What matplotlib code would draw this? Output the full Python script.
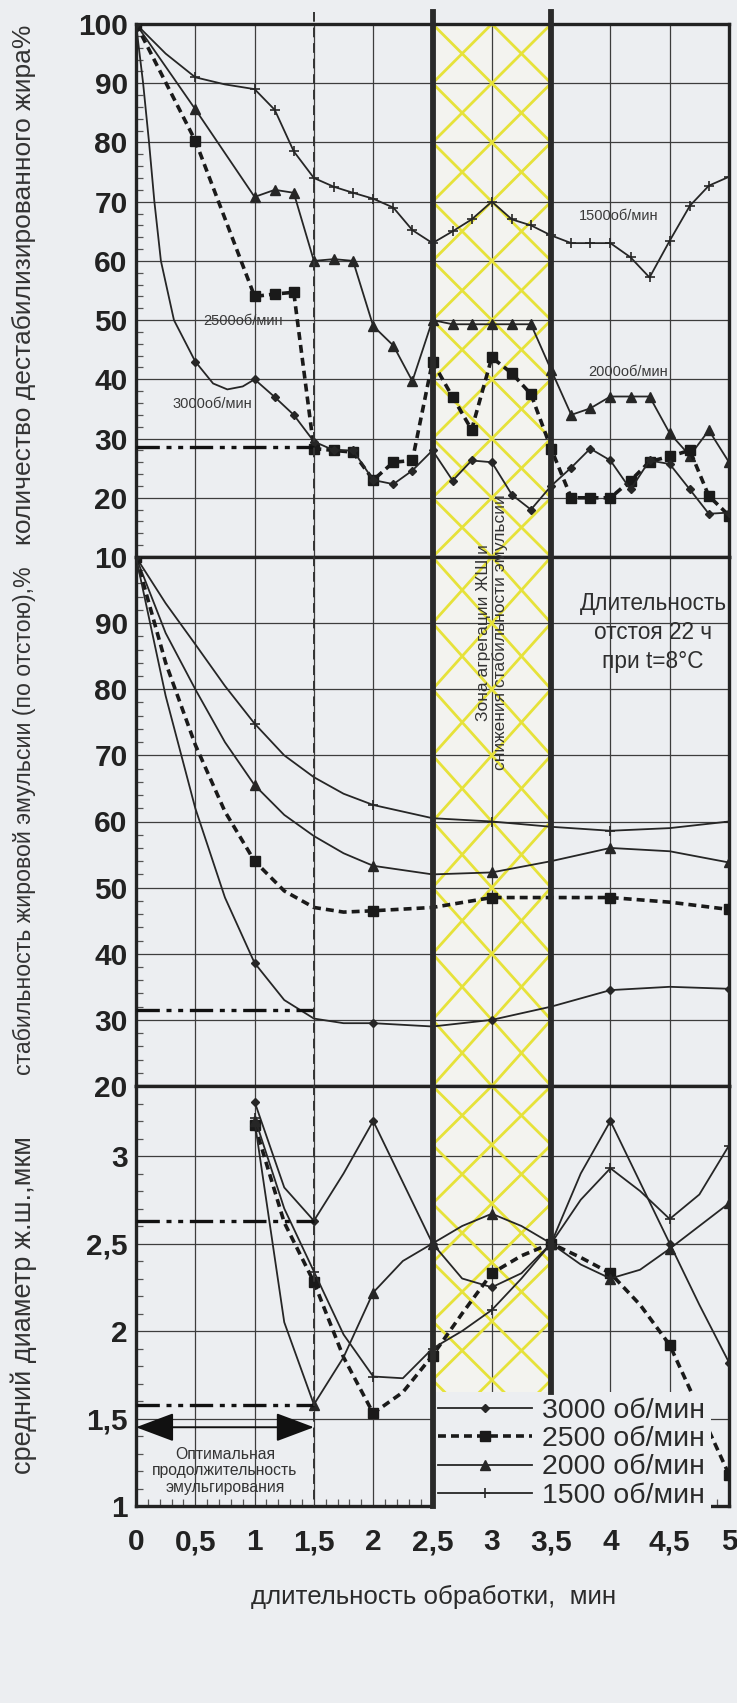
import matplotlib
matplotlib.use('Agg')
import matplotlib.pyplot as plt
import matplotlib.transforms as mtransforms
from matplotlib.lines import Line2D
from matplotlib.patches import Rectangle
from matplotlib.ticker import MultipleLocator
import numpy as np

plt.rcParams['font.family'] = ['Liberation Sans', 'DejaVu Sans']

BG = '#eceef1'
INK = '#262626'
GRID = '#3d3d3d'
YEL = '#e6e23a'

# ---------------- data ----------------
series_labels = ['3000 об/мин', '2500 об/мин', '2000 об/мин', '1500 об/мин']
x_ticks = [0, 0.5, 1, 1.5, 2, 2.5, 3, 3.5, 4, 4.5, 5]
x_tick_labels = ['0', '0,5', '1', '1,5', '2', '2,5', '3', '3,5', '4', '4,5', '5']

# top panel: количество дестабилизированного жира, %
top_x_3000 = [0, 0.06, 0.11, 0.155, 0.21, 0.32, 0.5, 0.65, 0.77, 0.9, 1.0, 1.17, 1.33, 1.5, 1.67, 1.83,
              2.0, 2.17, 2.33, 2.5, 2.67, 2.83, 3.0, 3.17, 3.33, 3.5, 3.67, 3.83, 4.0, 4.17, 4.33, 4.5,
              4.67, 4.83, 5.0]
top_y_3000 = [100, 90, 80, 70, 60, 50, 43, 39.3, 38.3, 38.8, 40, 37, 34, 29.5, 28, 28,
              23, 22.3, 24.6, 28, 22.9, 26.3, 26, 20.5, 18, 22, 25.1, 28.3, 26.3, 21.4, 26.3, 25.7,
              21.4, 17.3, 17.5]
top_x_1500 = [0, 0.25, 0.5, 0.75, 1.0, 1.17, 1.33, 1.5, 1.67, 1.83, 2.0, 2.17, 2.33, 2.5, 2.67, 2.83,
              3.0, 3.17, 3.33, 3.5, 3.67, 3.83, 4.0, 4.17, 4.33, 4.5, 4.67, 4.83, 5.0]
top_y_1500 = [100, 95, 91, 89.8, 89, 85.5, 78.5, 74, 72.5, 71.5, 70.5, 69, 65.2, 63, 65, 67,
              70, 67, 66, 64.3, 63, 63, 63, 60.6, 57.2, 63.4, 69.3, 72.7, 74.2]
top_x = [0, 0.5, 1.0, 1.17, 1.33, 1.5, 1.67, 1.83, 2.0, 2.17, 2.33, 2.5, 2.67, 2.83, 3.0, 3.17,
         3.33, 3.5, 3.67, 3.83, 4.0, 4.17, 4.33, 4.5, 4.67, 4.83, 5.0]
top_y_2000 = [100, 85.6, 70.8, 72, 71.5, 60, 60.3, 60, 49, 45.7, 39.7, 50, 49.3, 49.3, 49.3, 49.3,
              49.3, 41.6, 34, 35.1, 37.1, 37.1, 37.1, 30.9, 27.1, 31.4, 26]
top_y_2500 = [100, 80.3, 54, 54.4, 54.7, 28.3, 28, 27.7, 23, 26, 26.3, 43, 37, 31.5, 43.7, 41,
              37.5, 28.3, 20, 20, 20, 22.9, 26.1, 27, 28, 20.3, 17]
top_optimum = 28.5

# middle panel: стабильность жировой эмульсии, %
mid_x = [0, 0.25, 0.5, 0.75, 1.0, 1.25, 1.5, 1.75, 2.0, 2.5, 3.0, 3.5, 4.0, 4.5, 5.0]
mid_y_3000 = [100, 79, 62, 48.5, 38.6, 33, 30.2, 29.5, 29.5, 29, 30, 32, 34.5, 35, 34.7]
mid_y_2500 = [100, 84, 71.6, 61.5, 54, 49.5, 47, 46.3, 46.5, 47, 48.5, 48.5, 48.5, 47.8, 46.7]
mid_y_2000 = [100, 88.5, 80, 72, 65.5, 61, 57.8, 55.2, 53.3, 52, 52.3, 54, 56, 55.5, 53.8]
mid_y_1500 = [100, 93, 86.8, 80.5, 74.8, 70, 66.7, 64.2, 62.5, 60.5, 60, 59.2, 58.6, 59, 60]
mid_optimum = 31.5

# bottom panel: средний диаметр ж.ш., мкм
bot_x = [1.0, 1.25, 1.5, 1.75, 2.0, 2.25, 2.5, 2.75, 3.0, 3.25, 3.5, 3.75, 4.0, 4.25, 4.5, 4.75, 5.0]
bot_y_3000 = [3.31, 2.82, 2.63, 2.9, 3.2, 2.85, 2.5, 2.3, 2.25, 2.33, 2.5, 2.9, 3.2, 2.85, 2.5, 2.15, 1.82]
bot_y_2500 = [3.18, 2.62, 2.28, 1.85, 1.53, 1.65, 1.86, 2.1, 2.33, 2.43, 2.5, 2.42, 2.33, 2.15, 1.92, 1.55, 1.18]
bot_y_2000 = [3.2, 2.05, 1.58, 1.85, 2.22, 2.4, 2.5, 2.6, 2.67, 2.6, 2.5, 2.38, 2.3, 2.35, 2.47, 2.6, 2.73]
bot_y_1500 = [3.22, 2.7, 2.34, 1.98, 1.74, 1.73, 1.9, 2.0, 2.12, 2.3, 2.5, 2.75, 2.93, 2.8, 2.64, 2.78, 3.06]
bot_optimum = [2.63, 1.58]

# ---------------- styles ----------------
ST = {
    '3000': dict(color=INK, lw=1.3, ls='-', marker='D', ms=4.5, mfc=INK, mec=INK),
    '2500': dict(color='#1a1a1a', lw=2.6, ls=(0, (2.2, 1.4)), marker='s', ms=6.5, mfc='#1a1a1a', mec='#1a1a1a'),
    '2000': dict(color=INK, lw=1.3, ls='-', marker='^', ms=6.5, mfc=INK, mec=INK),
    '1500': dict(color=INK, lw=1.3, ls='-', marker='+', ms=7, mew=1.2, mfc=INK, mec=INK),
}
DASHDOT = (0, (7, 2, 1.5, 2, 1.5, 2))

W, H = 737, 1703
fig = plt.figure(figsize=(W / 100, H / 100), dpi=100, facecolor=BG)

L = 136 / W
R = 729 / W
def fy(py):
    return 1 - py / H

top_box = [L, fy(557), R - L, fy(24) - fy(557)]
mid_box = [L, fy(1086), R - L, fy(557) - fy(1086)]
bot_box = [L, fy(1506), R - L, fy(1086) - fy(1506)]

ax_top = fig.add_axes(top_box)
ax_mid = fig.add_axes(mid_box)
ax_bot = fig.add_axes(bot_box)

TICKFONT = dict(fontsize=21.5, fontweight='bold')

for ax in (ax_top, ax_mid, ax_bot):
    ax.set_facecolor(BG)
    ax.set_xlim(0, 5)
    ax.set_xticks(x_ticks)
    ax.grid(True, which='major', color=GRID, lw=0.9, zorder=0.5)
    ax.set_axisbelow(True)
    for s in ax.spines.values():
        s.set_linewidth(2.4)
        s.set_color('#222222')
    ax.tick_params(axis='both', which='major', length=0, pad=6, colors='#222222')
    ax.tick_params(axis='y', which='minor', direction='in', length=5, width=0.9, colors='#555555', left=True)

ax_top.set_ylim(10, 100)
ax_top.set_yticks(range(10, 101, 10), [str(v) for v in range(10, 101, 10)], **TICKFONT)
ax_top.yaxis.set_minor_locator(MultipleLocator(2))
ax_top.set_xticklabels([])

ax_mid.set_ylim(20, 100)
ax_mid.set_yticks(range(20, 101, 10), [str(v) for v in range(20, 100, 10)] + [''], **TICKFONT)
ax_mid.yaxis.set_minor_locator(MultipleLocator(2))
ax_mid.set_xticklabels([])

ax_bot.set_ylim(1, 3.4)
ax_bot.set_yticks([1, 1.5, 2, 2.5, 3], ['1', '1,5', '2', '2,5', '3'], **TICKFONT)
ax_bot.yaxis.set_minor_locator(MultipleLocator(0.1))
ax_bot.xaxis.set_minor_locator(MultipleLocator(0.1))
ax_bot.tick_params(axis='x', which='minor', direction='in', length=5, width=0.9, colors='#555555', bottom=True)
ax_bot.set_xticklabels(x_tick_labels, **TICKFONT)
ax_bot.tick_params(axis='x', which='major', pad=16)

# ---------- aggregation zone (x 2.5 .. 3.5) ----------
def zone(ax, ylo, yhi, h, ya):
    clip = Rectangle((2.5, ylo), 1.0, yhi - ylo, facecolor='#f3f3ef', edgecolor='none', zorder=0.3)
    ax.add_patch(clip)
    slope = h / 0.5
    n0 = int(np.floor((ylo - ya) / h)) - 3
    n1 = int(np.ceil((yhi - ya) / h)) + 3
    xs = np.array([2.5, 3.5])
    for n in range(n0, n1 + 1):
        for s in (1, -1):
            ln, = ax.plot(xs, ya + s * slope * (xs - 3.0) + n * h, color=YEL, lw=2.0, zorder=0.8)
            ln.set_clip_path(clip)

zone(ax_top, 10, 100, 10, 90)
zone(ax_mid, 20, 100, 10, 90)
zone(ax_bot, 1.65, 3.4, 0.336, 3.4)

# ---------- series ----------
def draw(ax, x, y, key, label=None, marks=None):
    kw = dict(ST[key])
    ln, = ax.plot(x, y, label=label, zorder=3, markevery=marks, **kw)
    return ln

def idx(xs, keep):
    return [i for i, v in enumerate(xs) if keep(v)]

draw(ax_top, top_x_1500, top_y_1500, '1500', marks=idx(top_x_1500, lambda v: v in (0, 0.5) or v >= 1.0))
draw(ax_top, top_x, top_y_2000, '2000')
draw(ax_top, top_x, top_y_2500, '2500')
draw(ax_top, top_x_3000, top_y_3000, '3000', marks=idx(top_x_3000, lambda v: v in (0, 0.5) or v >= 1.0))
ax_top.plot([0, 1.5], [top_optimum, top_optimum], color='#111111', lw=2.4, ls=DASHDOT, zorder=3)

mk_mid = idx(mid_x, lambda v: float(v).is_integer())
draw(ax_mid, mid_x, mid_y_1500, '1500', marks=mk_mid)
draw(ax_mid, mid_x, mid_y_2000, '2000', marks=mk_mid)
draw(ax_mid, mid_x, mid_y_2500, '2500', marks=mk_mid)
draw(ax_mid, mid_x, mid_y_3000, '3000', marks=mk_mid)
ax_mid.plot([0, 1.5], [mid_optimum, mid_optimum], color='#111111', lw=2.4, ls=DASHDOT, zorder=3)

mk_bot = idx(bot_x, lambda v: (v * 2).is_integer())
h3000 = draw(ax_bot, bot_x, bot_y_3000, '3000', series_labels[0], mk_bot)
h2500 = draw(ax_bot, bot_x, bot_y_2500, '2500', series_labels[1], mk_bot)
h2000 = draw(ax_bot, bot_x, bot_y_2000, '2000', series_labels[2], mk_bot)
h1500 = draw(ax_bot, bot_x, bot_y_1500, '1500', series_labels[3], mk_bot)
for v in bot_optimum:
    ax_bot.plot([0, 1.5], [v, v], color='#111111', lw=2.4, ls=DASHDOT, zorder=3)

# ---------- annotations ----------
tc = '#3a3a3a'
ax_top.text(4.07, 67.5, '1500об/мин', fontsize=10.5, color=tc, ha='center', va='center', zorder=4)
ax_top.text(4.15, 41.3, '2000об/мин', fontsize=10.5, color=tc, ha='center', va='center', zorder=4)
ax_top.text(0.9, 49.8, '2500об/мин', fontsize=10.5, color=tc, ha='center', va='center', zorder=4)
ax_top.text(0.64, 35.8, '3000об/мин', fontsize=10.5, color=tc, ha='center', va='center', zorder=4)

ax_mid.text(4.36, 88.6, 'Длительность\nотстоя 22 ч\nпри t=8°C', fontsize=16.3, color='#2e2e2e',
            ha='center', va='center', linespacing=1.35, zorder=4)
ax_mid.text(3.0, 88.6, 'Зона агрегации ЖШ и\nснижения стабильности эмульсии', rotation=90,
            fontsize=12.5, color='#333333', ha='center', va='center', linespacing=1.1,
            zorder=6, clip_on=False)

ax_bot.annotate('', xy=(0, 1.45), xytext=(1.5, 1.45),
                arrowprops=dict(arrowstyle='<|-|>,head_length=1.2,head_width=0.45',
                                mutation_scale=20, color='#111111', lw=1.4,
                                shrinkA=0, shrinkB=0), zorder=4)
ax_bot.text(0.75, 1.2, 'Оптимальная\nпродолжительность\nэмульгирования', fontsize=11.3,
            color='#333333', ha='center', va='center', linespacing=1.15, zorder=2)

leg = ax_bot.legend(handles=[h3000, h2500, h2000, h1500], loc='upper left',
                    bbox_to_anchor=(0.5, (1.65 - 1) / 2.4), borderaxespad=0,
                    fontsize=20.5, handlelength=3.3, handletextpad=0.35, labelspacing=0.08,
                    borderpad=0.2, frameon=True, fancybox=False, framealpha=1,
                    facecolor=BG, edgecolor='none', labelcolor='#2a2a2a')
leg.set_zorder(5)

# ---------- vertical marker lines spanning the panels ----------
btf = mtransforms.blended_transform_factory(ax_top.transData, fig.transFigure)
top_y_fig = fy(12)
bottom_y_fig = fy(1506)
legend_top_fig = fy(1506 - (1.65 - 1) * (1506 - 1086) / 2.4)
fig.add_artist(Line2D([1.5, 1.5], [top_y_fig, bottom_y_fig], transform=btf, color='#333333',
                      lw=1.4, ls=(0, (5, 3)), zorder=7))
fig.add_artist(Line2D([2.5, 2.5], [top_y_fig, bottom_y_fig], transform=btf, color='#2a2a2a',
                      lw=4.2, zorder=8))
fig.add_artist(Line2D([3.5, 3.5], [top_y_fig, legend_top_fig], transform=btf, color='#2a2a2a',
                      lw=4.2, zorder=8))

# ---------- axis titles ----------
fig.text(24 / W, fy(285), 'количество дестабилизированного жира%', rotation=90, fontsize=19,
         color='#333333', ha='center', va='center')
fig.text(24 / W, fy(821), 'стабильность жировой эмульсии (по отстою),%', rotation=90, fontsize=16.7,
         color='#333333', ha='center', va='center')
fig.text(24 / W, fy(1305), 'средний диаметр ж.ш.,мкм', rotation=90, fontsize=19.5,
         color='#333333', ha='center', va='center')
fig.text(434 / W, fy(1597), 'длительность обработки,  мин', fontsize=18.6, color='#2a2a2a',
         ha='center', va='center')

fig.savefig('out.png', dpi=100, facecolor=BG)
